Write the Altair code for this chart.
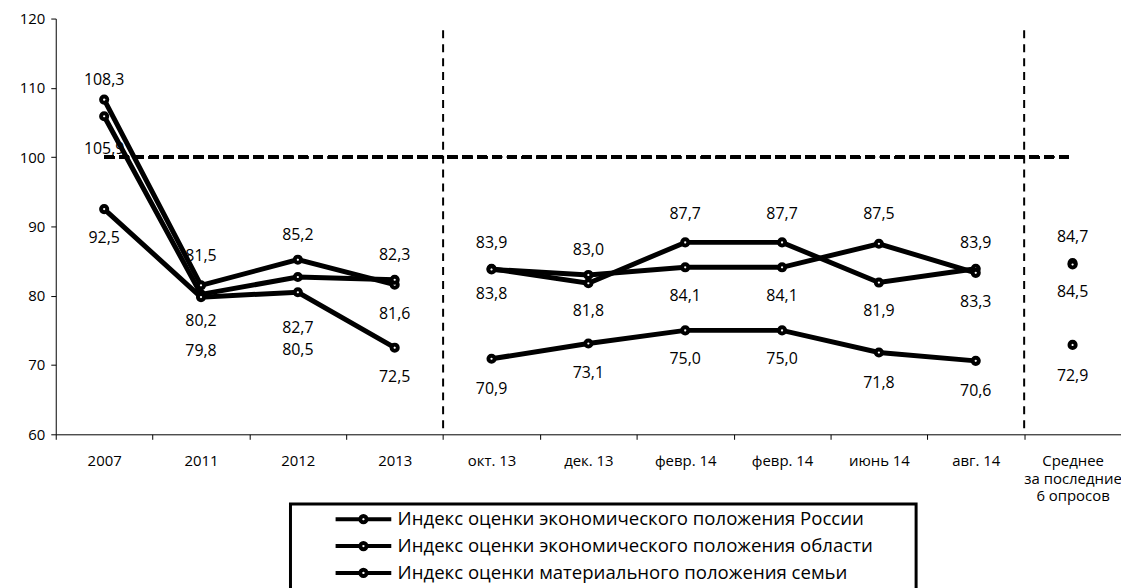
import json
import altair as alt
import pandas as pd

# ---- data ----
categories = ["2007", "2011", "2012", "2013", "окт. 13", "дек. 13", "февр. 14",
              "февр. 14", "июнь 14", "авг. 14", "Среднее\nза последние\n6 опросов"]
periods = ["годы"] * 4 + ["опросы"] * 6 + ["среднее"]
series_names = ["Индекс оценки экономического положения России",
                "Индекс оценки экономического положения области",
                "Индекс оценки материального положения семьи"]
russia = [108.3, 81.5, 85.2, 81.6, 83.9, 81.8, 87.7, 87.7, 81.9, 83.9, 84.7]
oblast = [105.9, 80.2, 82.7, 82.3, 83.8, 83.0, 84.1, 84.1, 87.5, 83.3, 84.5]
family = [92.5, 79.8, 80.5, 72.5, 70.9, 73.1, 75.0, 75.0, 71.8, 70.6, 72.9]
base_level = 100

# ---- styling: label offsets in px (+ = below point) ----
dy_russia = [-20, -29, -25, 30, -26, 28, -28, -28, 29, -26, -26]
dy_oblast = [33, 27, 51, -25, 25, -25, 29, 29, -30, 29, 28]
dy_family = [29, 54, 58, 29, 30, 30, 29, 29, 31, 30, 31]

W, H = 1071, 418
Y_MIN, Y_MAX = 60, 120
FONT = "Open Sans"

rows = []
for name, vals, dys in zip(series_names, [russia, oblast, family], [dy_russia, dy_oblast, dy_family]):
    for i, (v, d) in enumerate(zip(vals, dys)):
        rows.append({"idx": i, "series": name, "value": v, "period": periods[i],
                     "label": f"{v:.1f}".replace(".", ","),
                     "label_y": v - d * (Y_MAX - Y_MIN) / H})
df = pd.DataFrame(rows)

bounds = pd.DataFrame({"idx": [i for i in range(1, len(periods)) if periods[i] != periods[i - 1]]})

cat_js = json.dumps(categories, ensure_ascii=False)
label_expr = (f"isValid({cat_js}[datum.value]) ? split({cat_js}[datum.value], '\\n') : ''")

x_scale = alt.Scale(type="band", domain=list(range(len(categories))), paddingInner=0, paddingOuter=0)
y_scale = alt.Scale(domain=[Y_MIN, Y_MAX], nice=False, zero=False)

x_enc = alt.X("idx:O", scale=x_scale,
              axis=alt.Axis(title=None, tickBand="extent", labelExpr=label_expr, labelAngle=0,
                            labelAlign="center", labelFontSize=15, labelPadding=14, tickSize=5,
                            labelLineHeight=18, labelBaseline="top"))
y_enc = alt.Y("value:Q", scale=y_scale,
              axis=alt.Axis(title=None, values=list(range(Y_MIN, Y_MAX + 1, 10)), grid=False,
                            tickSize=5, labelPadding=6, labelFontSize=15))

legend_path = ("M-4,0H-0.45 M0.45,0H4 "
               "M-0.45,0A0.45,0.45 0 1,0 0.45,0A0.45,0.45 0 1,0 -0.45,0Z")

base = alt.Chart(df)

lines = base.mark_line(strokeWidth=5).encode(
    x=x_enc, y=y_enc,
    color=alt.Color("series:N", sort=series_names,
                    scale=alt.Scale(domain=series_names, range=["#000000"] * 3),
                    legend=alt.Legend(title="\u2002", titleOrient="right", titlePadding=37,
                                      orient="none", legendX=236, legendY=488,
                                      symbolType=legend_path, symbolSize=196,
                                      symbolStrokeWidth=4, symbolFillColor="white",
                                      symbolOffset=58, labelOffset=25, rowPadding=4,
                                      labelFontSize=18.7, labelFont=FONT, labelColor="#000000",
                                      labelLimit=800, padding=6)),
    detail="period:N",
)

points = base.mark_point(filled=True, fill="white", stroke="black", strokeWidth=4,
                         size=38, opacity=1).encode(
    x=x_enc, y=y_enc, detail="series:N")

labels = base.mark_text(font=FONT, fontSize=16, color="black", baseline="middle").encode(
    x=x_enc, y=alt.Y("label_y:Q", scale=y_scale), text="label:N")

hline = alt.Chart(df).mark_rule(strokeDash=[10, 5], strokeWidth=3, color="black").encode(
    x=alt.XDatum(0, type="ordinal", bandPosition=0.5),
    x2=alt.X2Datum(len(categories) - 1),
    y=alt.YDatum(base_level),
)

dividers = alt.Chart(bounds).mark_rule(strokeDash=[8, 6], strokeWidth=2, color="black").encode(
    x=alt.X("idx:O", scale=x_scale, bandPosition=0),
    y=alt.YDatum(118.3),
    y2=alt.Y2Datum(Y_MIN),
)

chart = alt.layer(dividers, hline, lines, points, labels).properties(
    width=W, height=H,
    autosize=alt.AutoSizeParams(type="none"),
    padding={"left": 48, "top": 9, "right": 0, "bottom": 170},
).configure_view(strokeWidth=0).configure_axis(
    domainColor="black", tickColor="black", labelColor="black", labelFont=FONT,
).configure_legend(strokeColor="black", strokeWidth=3, fillColor="white", cornerRadius=0)

chart.save("out.html", embed_options={"renderer": "svg", "actions": False})
